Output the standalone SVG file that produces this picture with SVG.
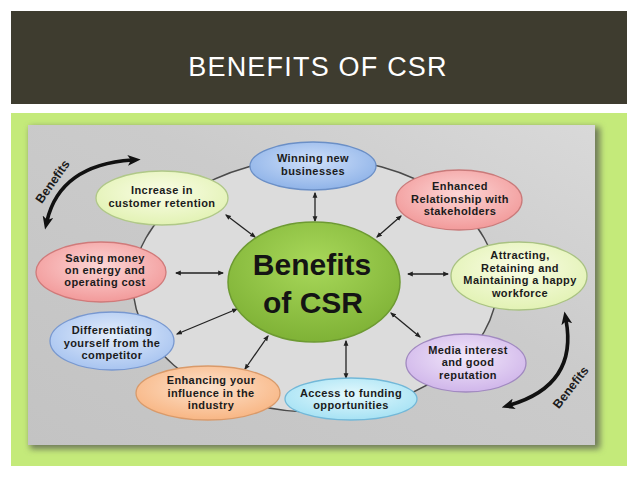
<svg xmlns="http://www.w3.org/2000/svg" width="638" height="479" viewBox="0 0 638 479">
<defs>
<style>
.nt{font-family:"Liberation Sans",Arial,sans-serif;font-weight:bold;font-size:11px;fill:#1b1b1b;text-anchor:middle;letter-spacing:0.4px}
.conn{stroke:#222;stroke-width:1.3;fill:none;marker-start:url(#ah);marker-end:url(#ah)}
.big{stroke:#111;stroke-width:3.6;fill:none;marker-start:url(#bh);marker-end:url(#bh)}
.bt{font-family:"Liberation Sans",Arial,sans-serif;font-weight:bold;font-size:12.5px;fill:#1b1b1b;text-anchor:middle}
</style>
<marker id="ah" viewBox="0 0 10 10" refX="8" refY="5" markerWidth="6" markerHeight="6" markerUnits="userSpaceOnUse" orient="auto-start-reverse"><path d="M0,1 L10,5 L0,9 z" fill="#222"/></marker>
<marker id="bh" viewBox="0 0 12 10" refX="4" refY="5" markerWidth="13" markerHeight="11" markerUnits="userSpaceOnUse" orient="auto-start-reverse"><path d="M0,0 L12,5 L0,10 L3,5 z" fill="#111"/></marker>
<linearGradient id="panel" x1="0" y1="1" x2="1" y2="0"><stop offset="0" stop-color="#c3c3c3"/><stop offset="0.6" stop-color="#cbcbcb"/><stop offset="1" stop-color="#d9d9d9"/></linearGradient>
<filter id="sh" x="-5%" y="-5%" width="110%" height="110%"><feGaussianBlur stdDeviation="3"/></filter>
<radialGradient id="gBlue" cx="0.5" cy="0.4" r="0.6"><stop offset="0" stop-color="#cfe0fa"/><stop offset="1" stop-color="#8fb3e8"/></radialGradient>
<radialGradient id="gPink" cx="0.5" cy="0.4" r="0.6"><stop offset="0" stop-color="#fcd6d6"/><stop offset="1" stop-color="#f29a9a"/></radialGradient>
<radialGradient id="gYel" cx="0.5" cy="0.4" r="0.6"><stop offset="0" stop-color="#fafde6"/><stop offset="1" stop-color="#e2f2b4"/></radialGradient>
<radialGradient id="gLav" cx="0.5" cy="0.4" r="0.6"><stop offset="0" stop-color="#f2e8fa"/><stop offset="1" stop-color="#d0b6ea"/></radialGradient>
<radialGradient id="gCyan" cx="0.5" cy="0.4" r="0.6"><stop offset="0" stop-color="#e4f9fd"/><stop offset="1" stop-color="#a6e2f4"/></radialGradient>
<radialGradient id="gOr" cx="0.5" cy="0.4" r="0.6"><stop offset="0" stop-color="#fde2cc"/><stop offset="1" stop-color="#f8b684"/></radialGradient>
<radialGradient id="gLBlue" cx="0.5" cy="0.4" r="0.6"><stop offset="0" stop-color="#e4eefc"/><stop offset="1" stop-color="#a8c4f0"/></radialGradient>
<radialGradient id="gGreen" cx="0.5" cy="0.35" r="0.65"><stop offset="0" stop-color="#a8d85a"/><stop offset="1" stop-color="#7fb236"/></radialGradient>
</defs>

<rect x="0" y="0" width="638" height="479" fill="#ffffff"/>
<rect x="11" y="11" width="616" height="93" fill="#3e3c2f"/>
<text x="318" y="76" font-family="'Liberation Sans',Arial,sans-serif" font-size="27" fill="#ffffff" text-anchor="middle" letter-spacing="1.2">BENEFITS OF CSR</text>

<rect x="11" y="113" width="616" height="353" fill="#c4ea7a"/>
<rect x="30" y="127" width="570" height="322" fill="#6f7a5a" filter="url(#sh)"/>
<rect x="28" y="125" width="567" height="320" fill="url(#panel)"/>

<ellipse cx="315" cy="285" rx="182" ry="127" fill="#dcdcdc" stroke="#4a4a4a" stroke-width="1.5"/>

<g id="connectors">
<line class="conn" x1="315" y1="193" x2="315" y2="221"/>
<line class="conn" x1="226" y1="215" x2="255" y2="237"/>
<line class="conn" x1="176" y1="273" x2="223" y2="273"/>
<line class="conn" x1="177" y1="334" x2="237" y2="309"/>
<line class="conn" x1="245" y1="369" x2="268" y2="336"/>
<line class="conn" x1="346" y1="341" x2="346" y2="378"/>
<line class="conn" x1="391" y1="313" x2="420" y2="337"/>
<line class="conn" x1="408" y1="274" x2="448" y2="274"/>
<line class="conn" x1="377" y1="237" x2="401" y2="216"/>
<path class="big" d="M132,160 Q60,165 47,221"/>
<path class="big" d="M566,320 Q578,385 510,405"/>
</g>

<text class="bt" transform="translate(56,184) rotate(-55)">Benefits</text>
<text class="bt" transform="translate(574,390) rotate(-52)">Benefits</text>

<g id="center">
<ellipse cx="314" cy="282" rx="86" ry="60" fill="url(#gGreen)" stroke="#6d9a32" stroke-width="1.5"/>
<text x="312" y="275" font-family="'Liberation Sans',Arial,sans-serif" font-weight="bold" font-size="30" fill="#141414" text-anchor="middle">Benefits</text>
<text x="313" y="313" font-family="'Liberation Sans',Arial,sans-serif" font-weight="bold" font-size="30" fill="#141414" text-anchor="middle">of CSR</text>
</g>

<g id="winning">
<ellipse cx="313" cy="166" rx="63" ry="24" fill="url(#gBlue)" stroke="#6b8fc6" stroke-width="1.3"/>
<text class="nt" x="313" y="162" letter-spacing="0.8">Winning new</text>
<text class="nt" x="313" y="175" letter-spacing="0.8">businesses</text>
</g>

<g id="enhanced">
<ellipse cx="459" cy="200" rx="63" ry="30" fill="url(#gPink)" stroke="#c97a7a" stroke-width="1.3"/>
<text class="nt" x="460" y="190">Enhanced</text>
<text class="nt" x="460" y="203">Relationship with</text>
<text class="nt" x="460" y="215">stakeholders</text>
</g>

<g id="attracting">
<ellipse cx="519" cy="276" rx="68" ry="34" fill="url(#gYel)" stroke="#a9c282" stroke-width="1.3"/>
<text class="nt" x="520" y="259">Attracting,</text>
<text class="nt" x="520" y="272">Retaining and</text>
<text class="nt" x="520" y="284">Maintaining a happy</text>
<text class="nt" x="520" y="297">workforce</text>
</g>

<g id="media">
<ellipse cx="466" cy="363" rx="60" ry="29" fill="url(#gLav)" stroke="#a189c0" stroke-width="1.3"/>
<text class="nt" x="468" y="354">Media interest</text>
<text class="nt" x="468" y="366">and good</text>
<text class="nt" x="468" y="379">reputation</text>
</g>

<g id="access">
<ellipse cx="351" cy="399" rx="66" ry="21" fill="url(#gCyan)" stroke="#72b8d8" stroke-width="1.3"/>
<text class="nt" x="351" y="397">Access to funding</text>
<text class="nt" x="351" y="409">opportunities</text>
</g>

<g id="enhancing">
<ellipse cx="208" cy="393" rx="72" ry="27" fill="url(#gOr)" stroke="#d99a6a" stroke-width="1.3"/>
<text class="nt" x="211" y="384">Enhancing your</text>
<text class="nt" x="211" y="397">influence in the</text>
<text class="nt" x="211" y="409">industry</text>
</g>

<g id="differentiating">
<ellipse cx="112" cy="341" rx="62" ry="29" fill="url(#gLBlue)" stroke="#7898d0" stroke-width="1.3"/>
<text class="nt" x="112" y="334">Differentiating</text>
<text class="nt" x="112" y="347">yourself from the</text>
<text class="nt" x="112" y="359">competitor</text>
</g>

<g id="saving">
<ellipse cx="101" cy="272" rx="65" ry="30" fill="url(#gPink)" stroke="#d07a7a" stroke-width="1.3"/>
<text class="nt" x="105" y="262">Saving money</text>
<text class="nt" x="105" y="274">on energy and</text>
<text class="nt" x="105" y="286">operating cost</text>
</g>

<g id="increase">
<ellipse cx="162" cy="198" rx="66" ry="27" fill="url(#gYel)" stroke="#b0c888" stroke-width="1.3"/>
<text class="nt" x="162" y="194" font-size="11.5" letter-spacing="1">Increase in</text>
<text class="nt" x="162" y="207" font-size="11.5" letter-spacing="1">customer retention</text>
</g>
</svg>
